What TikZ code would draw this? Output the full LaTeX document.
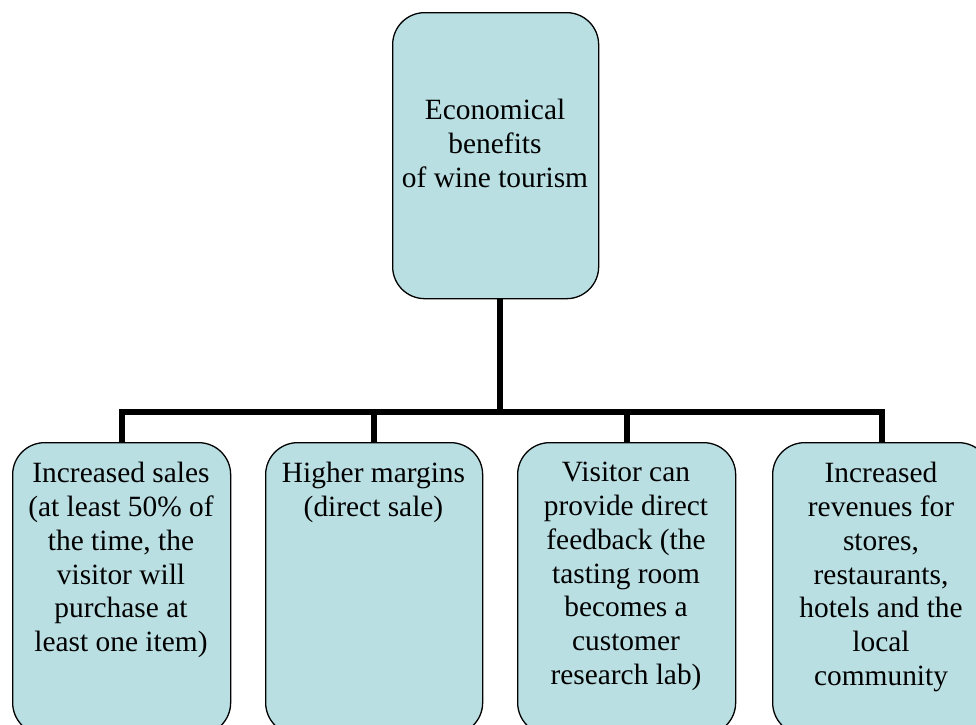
\documentclass[tikz,border=0pt]{standalone}
\usepackage{fontspec}
\setmainfont{Liberation Serif}
\definecolor{boxfill}{RGB}{185,223,227}
\begin{document}
\begin{tikzpicture}[x=1pt,y=-1pt,
  card/.style={draw=black,line width=1.3pt,fill=boxfill,rounded corners=32pt,
    inner sep=0pt,minimum width=#1,anchor=north west},
  lbl/.style={align=center,inner sep=0pt,anchor=north,
    font=\fontsize{29.4}{33.8}\selectfont},
  conn/.style={line width=6pt,line join=miter,line cap=butt}]
\useasboundingbox (0,0) rectangle (976,724);
\clip (0,0) rectangle (976,724);
\fill[white] (0,0) rectangle (976,724);
% boxes
\node[card=206pt,minimum height=286pt] (top) at (392,12) {};
\node[card=218pt,minimum height=292pt] (b1) at (12,442) {};
\node[card=217pt,minimum height=292pt] (b2) at (265,442) {};
\node[card=218pt,minimum height=292pt] (b3) at (517,442) {};
\node[card=218pt,minimum height=292pt] (b4) at (772,442) {};
% texts
\node[lbl] (ttop) at (495,99) {Economical\\benefits\\of wine tourism};
\node[lbl] (t1) at (121,462) {Increased sales\\(at least 50\% of\\the time, the\\visitor will\\purchase at\\least one item)};
\node[lbl] (t2) at (373.5,462) {Higher margins\\(direct sale)};
\node[lbl] (t3) at (626,462) {Visitor can\\provide direct\\feedback (the\\tasting room\\becomes a\\customer\\research lab)};
\node[lbl] (t4) at (881,462) {Increased\\revenues for\\stores,\\restaurants,\\hotels and the\\local\\community};
% connectors
\coordinate (bar) at (500,412);
\draw[conn] (top.south -| bar) -- (bar);
\draw[conn] (b1.north) -- (b1.north |- bar) -- (b4.north |- bar) -- (b4.north);
\draw[conn] (b2.north) -- (b2.north |- bar);
\draw[conn] (b3.north) -- (b3.north |- bar);
\end{tikzpicture}
\end{document}
